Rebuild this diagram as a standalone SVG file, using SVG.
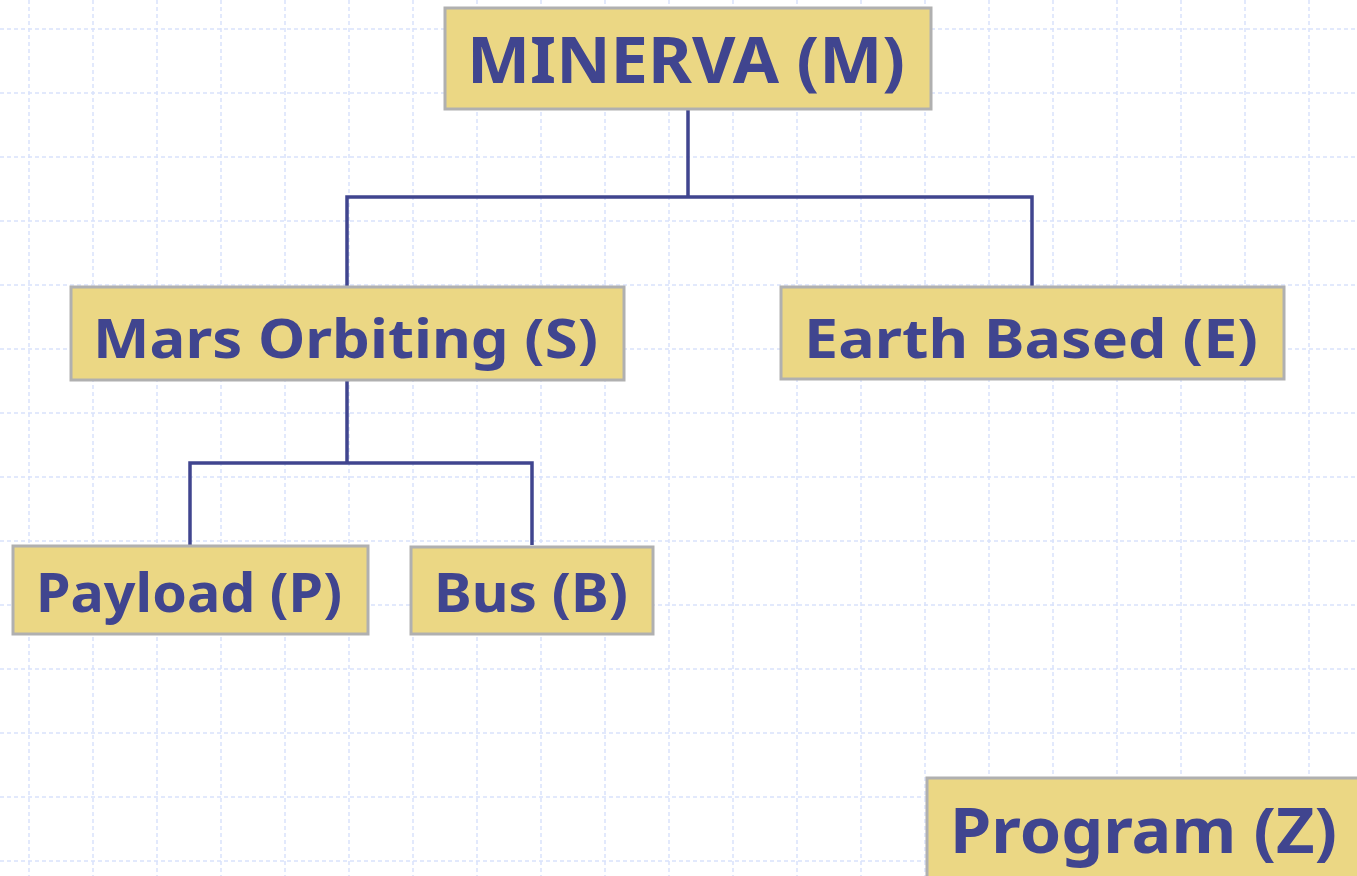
<svg xmlns="http://www.w3.org/2000/svg" width="1357" height="876" viewBox="0 0 1357 876">
<style>
.grid line{stroke:#d9e2fb;stroke-width:1.5;stroke-dasharray:4 3}
.box{fill:#ebd784;stroke:#b0b0b0;stroke-width:3}
.lbl{font-family:"Noto Sans","Open Sans","DejaVu Sans",sans-serif;font-weight:bold;fill:#40458f;text-anchor:middle}
.conn{fill:none;stroke:#40458f;stroke-width:3.5}
</style>
<rect width="1357" height="876" fill="#ffffff"/>
<g class="grid">
<line x1="29" y1="0" x2="29" y2="876"/><line x1="93" y1="0" x2="93" y2="876"/><line x1="157" y1="0" x2="157" y2="876"/><line x1="221" y1="0" x2="221" y2="876"/><line x1="285" y1="0" x2="285" y2="876"/><line x1="349" y1="0" x2="349" y2="876"/><line x1="413" y1="0" x2="413" y2="876"/><line x1="477" y1="0" x2="477" y2="876"/><line x1="541" y1="0" x2="541" y2="876"/><line x1="605" y1="0" x2="605" y2="876"/><line x1="669" y1="0" x2="669" y2="876"/><line x1="733" y1="0" x2="733" y2="876"/><line x1="797" y1="0" x2="797" y2="876"/><line x1="861" y1="0" x2="861" y2="876"/><line x1="925" y1="0" x2="925" y2="876"/><line x1="989" y1="0" x2="989" y2="876"/><line x1="1053" y1="0" x2="1053" y2="876"/><line x1="1117" y1="0" x2="1117" y2="876"/><line x1="1181" y1="0" x2="1181" y2="876"/><line x1="1245" y1="0" x2="1245" y2="876"/><line x1="1309" y1="0" x2="1309" y2="876"/>
<line x1="0" y1="29" x2="1357" y2="29"/><line x1="0" y1="93" x2="1357" y2="93"/><line x1="0" y1="157" x2="1357" y2="157"/><line x1="0" y1="221" x2="1357" y2="221"/><line x1="0" y1="285" x2="1357" y2="285"/><line x1="0" y1="349" x2="1357" y2="349"/><line x1="0" y1="413" x2="1357" y2="413"/><line x1="0" y1="477" x2="1357" y2="477"/><line x1="0" y1="541" x2="1357" y2="541"/><line x1="0" y1="605" x2="1357" y2="605"/><line x1="0" y1="669" x2="1357" y2="669"/><line x1="0" y1="733" x2="1357" y2="733"/><line x1="0" y1="797" x2="1357" y2="797"/><line x1="0" y1="861" x2="1357" y2="861"/>
</g>
<g id="connectors">
<path class="conn" d="M688 109 V197 M347 286 V197 H1032 V286"/>
<path class="conn" d="M347 381 V463 M190 545 V463 H532 V545"/>
</g>
<g id="node-M">
<rect class="box" x="445" y="8" width="486" height="101"/>
<text class="lbl" x="686" y="83" font-size="64" textLength="438" lengthAdjust="spacingAndGlyphs">MINERVA (M)</text>
</g>
<g id="node-S">
<rect class="box" x="71" y="287" width="553" height="93"/>
<text class="lbl" x="345.5" y="358" font-size="53" textLength="505" lengthAdjust="spacingAndGlyphs">Mars Orbiting (S)</text>
</g>
<g id="node-E">
<rect class="box" x="781" y="287" width="503" height="92"/>
<text class="lbl" x="1031" y="358" font-size="53" textLength="454" lengthAdjust="spacingAndGlyphs">Earth Based (E)</text>
</g>
<g id="node-P">
<rect class="box" x="13" y="546" width="355" height="88"/>
<text class="lbl" x="189" y="612" font-size="53" textLength="306" lengthAdjust="spacingAndGlyphs">Payload (P)</text>
</g>
<g id="node-B">
<rect class="box" x="411" y="547" width="242" height="87"/>
<text class="lbl" x="531" y="612" font-size="53" textLength="194" lengthAdjust="spacingAndGlyphs">Bus (B)</text>
</g>
<g id="node-Z">
<rect class="box" x="927" y="778" width="440" height="110"/>
<text class="lbl" x="1143.5" y="853" font-size="62" textLength="387" lengthAdjust="spacingAndGlyphs">Program (Z)</text>
</g>
</svg>
